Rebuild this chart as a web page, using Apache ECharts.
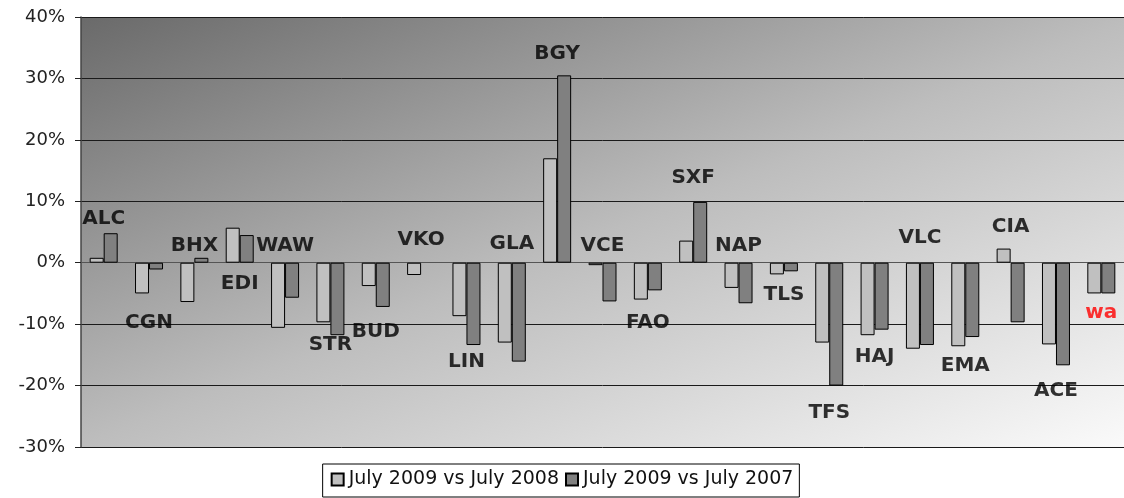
<!DOCTYPE html>
<html>
<head>
<meta charset="utf-8">
<script src="https://cdn.jsdelivr.net/npm/echarts@6/dist/echarts.min.js"></script>
<style>
html,body{margin:0;padding:0;background:#fff;overflow:hidden;}
#chart{width:1124px;height:498px;}
</style>
</head>
<body>
<div id="chart"></div>
<script>
// Categories (airports)
const categories = ['ALC','CGN','BHX','EDI','WAW','STR','BUD','VKO','LIN','GLA','BGY','VCE','FAO','SXF','NAP','TLS','TFS','HAJ','VLC','EMA','CIA','ACE','wa'];
// July 2009 vs July 2008 (%)
const vs2008 = [0.8,-5.0,-6.4,5.7,-10.6,-9.7,-3.8,-2.0,-8.7,-13.0,17.0,-0.4,-6.0,3.6,-4.1,-1.9,-13.0,-11.8,-14.0,-13.6,2.3,-13.3,-5.0];
// July 2009 vs July 2007 (%)
const vs2007 = [4.8,-1.1,0.8,4.5,-5.7,-11.8,-7.2,null,-13.4,-16.1,30.5,-6.3,-4.5,9.9,-6.6,-1.4,-20.0,-10.9,-13.4,-12.1,-9.7,-16.7,-5.0];
// Where each category's name label sits (value, %)
const labelValues = [7.2,-9.8,2.7,-3.4,2.7,-13.4,-11.2,3.8,-16.1,3.0,34.0,2.75,-9.8,13.9,2.75,-5.2,-24.4,-15.3,4.1,-16.8,5.9,-20.9,-8.1];
const redLabels = ['wa'];
const yTicks = [-30,-20,-10,0,10,20,30,40];

const chart = echarts.init(document.getElementById('chart'), null, {renderer:'canvas'});

const gridW = 1052, gridH = 430;
const t = 2*gridW*gridH/(gridW*gridW + gridH*gridH);
const bg = new echarts.graphic.LinearGradient(0, 0, t*gridH/gridW, t*gridW/gridH, [
  {offset:0, color:'#6a6a6a'},
  {offset:0.5, color:'#bdbdbd'},
  {offset:1, color:'#fbfbfb'}
]);

const font = 'DejaVu Sans, Verdana, sans-serif';

chart.setOption({
  animation:false,
  backgroundColor:'#ffffff',
  grid:{left:81, top:17, width:gridW, height:gridH, show:true, backgroundColor:bg, borderWidth:0},
  legend:{
    data:['July 2009 vs July 2008','July 2009 vs July 2007'],
    left:'center', top:464,
    icon:'rect', itemWidth:12, itemHeight:12, itemGap:6,
    padding:[6,6,8,8],
    borderColor:'#000', borderWidth:1, backgroundColor:'#fff',
    textStyle:{fontFamily:font, fontSize:19, color:'#111'}
  },
  xAxis:{
    type:'category', data:categories,
    axisLine:{show:true, onZero:true, lineStyle:{color:'#555', width:1}},
    axisTick:{show:false}, axisLabel:{show:false}, splitLine:{show:false}
  },
  yAxis:{
    type:'value', min:yTicks[0], max:yTicks[yTicks.length-1], interval:10,
    axisLine:{show:true, lineStyle:{color:'#444', width:1.5}},
    axisTick:{show:true, length:6, lineStyle:{color:'#222'}},
    axisLabel:{formatter:'{value}%', fontFamily:font, fontSize:18, color:'#222', margin:16},
    splitLine:{show:true, lineStyle:{color:'#1a1a1a', width:1}}
  },
  series:[
    {
      name:'July 2009 vs July 2008', type:'bar', data:vs2008,
      barWidth:14, barGap:'0%',
      itemStyle:{color:'#c0c0c0', borderColor:'#000', borderWidth:1}
    },
    {
      name:'July 2009 vs July 2007', type:'bar', data:vs2007,
      barWidth:14, barGap:'0%',
      itemStyle:{color:'#808080', borderColor:'#000', borderWidth:1}
    },
    {
      name:'labels', type:'scatter', silent:true, z:10,
      symbol:'circle', symbolSize:1,
      itemStyle:{color:'rgba(0,0,0,0)'},
      data: labelValues.map((v,i)=>({
        value:v,
        label:{color: redLabels.includes(categories[i]) ? '#ff0000' : '#000'}
      })),
      label:{
        show:true, position:'inside',
        formatter:(p)=>categories[p.dataIndex],
        fontFamily:font, fontWeight:'bold', fontSize:20
      }
    }
  ]
});
</script>
</body>
</html>
